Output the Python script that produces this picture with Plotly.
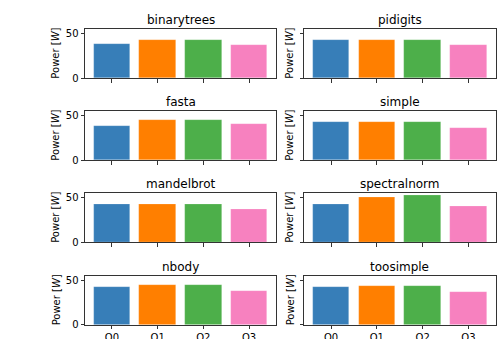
import plotly.graph_objects as go

benchmarks = ["binarytrees", "pidigits", "fasta", "simple",
              "mandelbrot", "spectralnorm", "nbody", "toosimple"]
levels = ["O0", "O1", "O2", "O3"]
colors = ["#377eb8", "#ff7f00", "#4daf4a", "#f781bf"]

power = {
    "binarytrees":  [38.5, 42.7, 42.7, 36.8],
    "pidigits":     [42.7, 42.7, 42.7, 36.8],
    "fasta":        [38.6, 44.6, 44.6, 40.8],
    "simple":       [42.4, 42.7, 42.7, 36.4],
    "mandelbrot":   [42.4, 43.1, 43.1, 37.2],
    "spectralnorm": [43.1, 50.6, 52.4, 40.8],
    "nbody":        [42.9, 44.3, 44.3, 37.6],
    "toosimple":    [42.9, 43.2, 43.2, 36.5],
}
yticks = [0, 50]

W, H = 504, 339
xdom = [(85 / W, 276 / W), (304 / W, 495.5 / W)]
rows_px = [(29, 78.3), (111, 160.3), (193.3, 242.3), (276, 324.7)]
ydom = [(1 - b / H, 1 - t / H) for t, b in rows_px]

ymax = max(max(v) for v in power.values()) * 1.05
font = dict(family="DejaVu Sans", size=10, color="black")

fig = go.Figure()
annotations = []
for i, name in enumerate(benchmarks):
    r, c = divmod(i, 2)
    k = i + 1
    xa = "x" if k == 1 else f"x{k}"
    ya = "y" if k == 1 else f"y{k}"
    fig.add_trace(go.Bar(
        x=list(range(len(levels))), y=power[name],
        marker=dict(color=colors, line=dict(color="rgba(255,255,255,0.3)", width=0.6)),
        width=0.8, xaxis=xa, yaxis=ya, showlegend=False,
    ))
    axis_common = dict(showline=True, linecolor="#333333", linewidth=1, mirror=True,
                       showgrid=False, zeroline=False, ticks="outside", ticklen=3.5,
                       tickwidth=0.8, tickcolor="#333333", tickfont=font,
                       automargin=False)
    fig.layout[f"xaxis{'' if k == 1 else k}"] = dict(
        axis_common, domain=xdom[c], anchor=ya, range=[-0.59, 3.59],
        tickvals=list(range(len(levels))), ticktext=levels,
        showticklabels=(r == 3))
    fig.layout[f"yaxis{'' if k == 1 else k}"] = dict(
        axis_common, domain=ydom[r], anchor=xa, range=[0, ymax],
        tickvals=yticks, showticklabels=(c == 0))
    annotations.append(dict(
        text=name, xref="paper", yref="paper",
        x=(xdom[c][0] + xdom[c][1]) / 2, y=ydom[r][1],
        xanchor="center", yanchor="bottom", yshift=0, showarrow=False,
        font=dict(family="DejaVu Sans", size=12, color="black")))
    lx = 56 if c == 0 else 290
    annotations.append(dict(
        text="Power [<i>W</i>]", xref="paper", yref="paper",
        x=lx / W, y=(ydom[r][0] + ydom[r][1]) / 2,
        xanchor="center", yanchor="middle", textangle=-90, showarrow=False,
        font=font))

fig.update_layout(
    width=W, height=H, margin=dict(l=0, r=0, t=0, b=0),
    paper_bgcolor="white", plot_bgcolor="white",
    annotations=annotations, bargap=0,
)
fig.write_html("out.html", config={"displayModeBar": False},
               post_script="document.body.style.margin='0';document.body.style.overflow='hidden';")
